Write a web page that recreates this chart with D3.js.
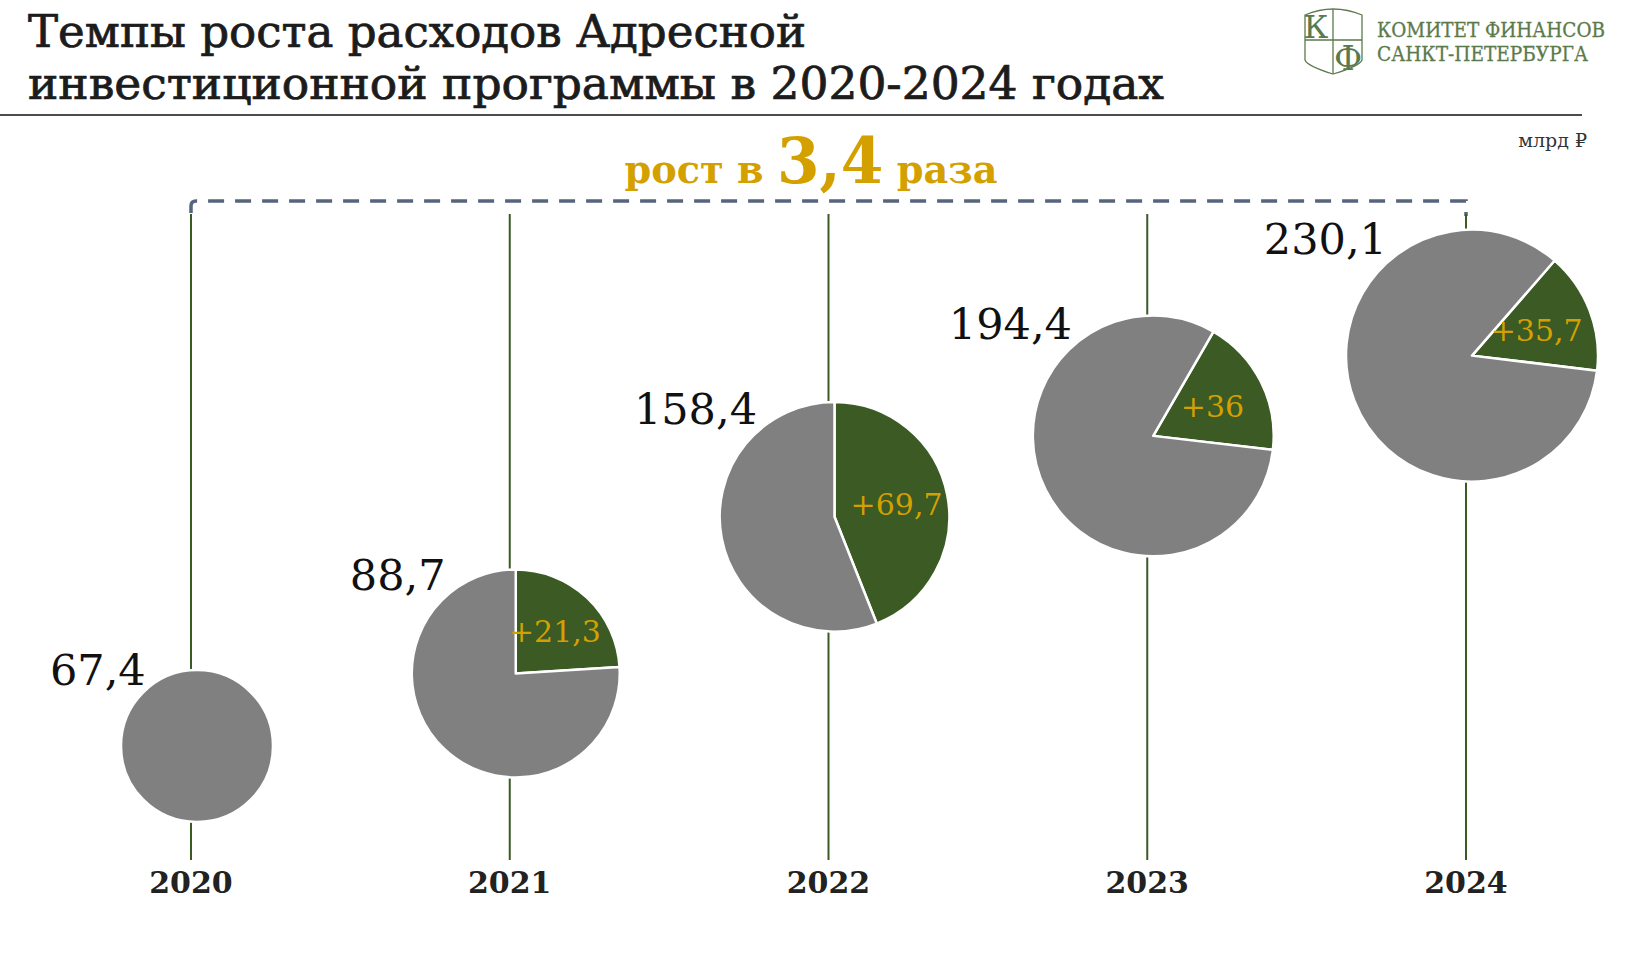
<!DOCTYPE html>
<html lang="ru">
<head>
<meta charset="utf-8">
<title>Темпы роста расходов АИП</title>
<script src="https://cdn.jsdelivr.net/npm/d3@7"></script>
<style>
  body { margin: 0; background: #fff; }
  svg { display: block; }
  text { font-family: "DejaVu Serif", serif; }
</style>
</head>
<body>
<div class="graphic"></div>
<script>
let years = [2020, 2021, 2022, 2023, 2024];
let totals = [67.4, 88.7, 158.4, 194.4, 230.1];
let increases = [0, 21.3, 69.7, 36, 35.7];
let titleLines = ["Темпы роста расходов Адресной", "инвестиционной программы в 2020-2024 годах"];
let unitLabel = "млрд ₽";
let orgLines = ["КОМИТЕТ ФИНАНСОВ", "САНКТ-ПЕТЕРБУРГА"];

// поворот зелёного сектора в градусах, как на слайде
let sliceTurn = [0, 0, 0, 30, 41];

let GRAY = "#808080";
let GREEN = "#3b5a24";
let GOLD = "#d4a000";
let LOGO = "#5b7a4c";

let svg = d3.select(".graphic")
            .append("svg")
            .attr("width", 1637)
            .attr("height", 959);

let fmt = v => String(v).replace(".", ",");

let x = d3.scaleLinear().domain([2020, 2024]).range([191, 1466]);
let radius = d3.scaleLinear().domain([67.4, 88.7, 230.1]).range([76, 104, 126]);
let bottom = d3.scaleLinear().domain([0, 250]).range([963, 440]);


// заголовок
svg.selectAll("text.title")
    .data(titleLines)
    .join("text")
    .attr("class", "title")
    .attr("x", 28)
    .attr("y", (d, i) => 47 + i * 52)
    .attr("font-size", 44)
    .attr("font-stretch", "condensed")
    .attr("fill", "#1c1c1c")
    .attr("stroke", "#1c1c1c")
    .attr("stroke-width", 0.7)
    .attr("textLength", (d, i) => i === 0 ? 778 : 1136)
    .attr("lengthAdjust", "spacingAndGlyphs")
    .text(d => d);

svg.append("line")
    .attr("x1", 0).attr("x2", 1582)
    .attr("y1", 115).attr("y2", 115)
    .attr("stroke", "#111")
    .attr("stroke-width", 1.5);

svg.append("text")
    .attr("x", 1587).attr("y", 147)
    .attr("text-anchor", "end")
    .attr("font-size", 19)
    .attr("fill", "#333")
    .text(unitLabel);


// логотип
let logo = svg.append("g")
    .attr("fill", "none")
    .attr("stroke", LOGO)
    .attr("stroke-width", 1.3);
logo.append("path")
    .attr("d", "M1305,15 Q1333,3 1362,15 V60 Q1360,66 1333,74 Q1307,66 1305,60 Z");
logo.append("path")
    .attr("d", "M1333,9 V74 M1305,40 H1362");
svg.append("text")
    .attr("x", 1316).attr("y", 38)
    .attr("text-anchor", "middle")
    .attr("font-family", "Liberation Serif")
    .attr("font-size", 32)
    .attr("fill", LOGO)
    .text("К");
svg.append("text")
    .attr("x", 1348).attr("y", 70)
    .attr("text-anchor", "middle")
    .attr("font-family", "Liberation Serif")
    .attr("font-size", 34)
    .attr("fill", LOGO)
    .text("Ф");
svg.selectAll("text.org")
    .data(orgLines)
    .join("text")
    .attr("class", "org")
    .attr("x", 1377)
    .attr("y", (d, i) => 37 + i * 24)
    .attr("font-family", "Liberation Serif")
    .attr("font-size", 20)
    .attr("fill", LOGO)
    .attr("stroke", LOGO)
    .attr("stroke-width", 0.3)
    .attr("textLength", (d, i) => i === 0 ? 228 : 211)
    .attr("lengthAdjust", "spacingAndGlyphs")
    .text(d => d);


// рост в N раза
let ratio = (totals[totals.length - 1] / totals[0]).toFixed(1);
let growth = svg.append("text")
    .attr("x", 811).attr("y", 183)
    .attr("text-anchor", "middle")
    .attr("font-weight", "bold")
    .attr("fill", GOLD)
    .attr("textLength", 373)
    .attr("lengthAdjust", "spacingAndGlyphs");
growth.append("tspan").attr("font-size", 40).text("рост в ");
growth.append("tspan").attr("font-size", 64).text(fmt(ratio));
growth.append("tspan").attr("font-size", 40).text(" раза");

let x0 = x(years[0]);
let x1 = x(years[years.length - 1]);
svg.append("path")
    .attr("d", `M${x0},213 V206 Q${x0},201 ${x0 + 5},201 H${x1} V216`)
    .attr("fill", "none")
    .attr("stroke", "#56657d")
    .attr("stroke-width", 3.5)
    .attr("stroke-dasharray", "16 11");


// вертикальные линии
svg.selectAll("line.stem")
    .data(years)
    .join("line")
    .attr("class", "stem")
    .attr("x1", d => x(d)).attr("x2", d => x(d))
    .attr("y1", 214).attr("y2", 860)
    .attr("stroke", GREEN)
    .attr("stroke-width", 2);

svg.selectAll("text.year")
    .data(years)
    .join("text")
    .attr("class", "year")
    .attr("x", d => x(d))
    .attr("y", 893)
    .attr("text-anchor", "middle")
    .attr("font-size", 30)
    .attr("font-weight", "bold")
    .attr("fill", "#222")
    .text(d => d);


// круги
years.forEach((year, i) => {
    let total = totals[i];
    let rad = radius(total);
    let cy = bottom(total) - rad;
    let turn = sliceTurn[i] * Math.PI / 180;

    let g = svg.append("g")
        .attr("transform", `translate(${x(year) + 6},${cy})`);

    let pie = d3.pie()
        .sort(null)
        .value(d => d.v)
        .startAngle(turn)
        .endAngle(turn + 2 * Math.PI);
    let slices = pie([
        {key: "inc", v: increases[i]},
        {key: "base", v: total - increases[i]}
    ]).filter(s => s.data.v > 0);

    let arc = d3.arc().innerRadius(0).outerRadius(rad);
    let labelArc = d3.arc().innerRadius(0).outerRadius(rad * 1.1);

    g.selectAll("path")
        .data(slices)
        .join("path")
        .attr("d", arc)
        .attr("fill", d => d.data.key === "inc" ? GREEN : GRAY)
        .attr("stroke", "#fff")
        .attr("stroke-width", 2.5)
        .attr("stroke-linejoin", "round");

    g.selectAll("text.inc")
        .data(slices.filter(s => s.data.key === "inc"))
        .join("text")
        .attr("class", "inc")
        .attr("transform", d => `translate(${labelArc.centroid(d)})`)
        .attr("dy", "0.35em")
        .attr("text-anchor", "middle")
        .attr("font-size", 30)
        .attr("fill", GOLD)
        .text(d => "+" + fmt(d.data.v));

    let a = -40 * Math.PI / 180;
    g.append("text")
        .attr("x", rad * 1.05 * Math.sin(a))
        .attr("y", -rad * 1.05 * Math.cos(a))
        .attr("text-anchor", "end")
        .attr("font-size", 43)
        .attr("fill", "#111")
        .text(fmt(total));
});
</script>
</body>
</html>
